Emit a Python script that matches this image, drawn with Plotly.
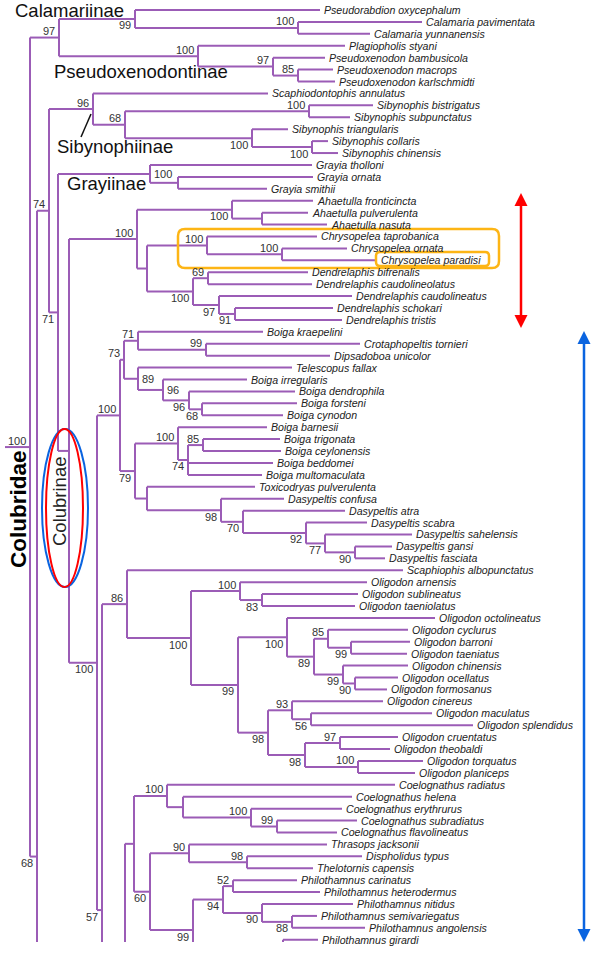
import plotly.graph_objects as go

# ---------------- data ----------------
LEAVES = [
    "Pseudorabdion oxycephalum", "Calamaria pavimentata", "Calamaria yunnanensis",
    "Plagiopholis styani", "Pseudoxenodon bambusicola", "Pseudoxenodon macrops",
    "Pseudoxenodon karlschmidti", "Scaphiodontophis annulatus", "Sibynophis bistrigatus",
    "Sibynophis subpunctatus", "Sibynophis triangularis", "Sibynophis collaris",
    "Sibynophis chinensis", "Grayia tholloni", "Grayia ornata", "Grayia smithii",
    "Ahaetulla fronticincta", "Ahaetulla pulverulenta", "Ahaetulla nasuta",
    "Chrysopelea taprobanica", "Chrysopelea ornata", "Chrysopelea paradisi",
    "Dendrelaphis bifrenalis", "Dendrelaphis caudolineolatus", "Dendrelaphis caudolineatus",
    "Dendrelaphis schokari", "Dendrelaphis tristis", "Boiga kraepelini",
    "Crotaphopeltis tornieri", "Dipsadoboa unicolor", "Telescopus fallax",
    "Boiga irregularis", "Boiga dendrophila", "Boiga forsteni", "Boiga cynodon",
    "Boiga barnesii", "Boiga trigonata", "Boiga ceylonensis", "Boiga beddomei",
    "Boiga multomaculata", "Toxicodryas pulverulenta", "Dasypeltis confusa",
    "Dasypeltis atra", "Dasypeltis scabra", "Dasypeltis sahelensis", "Dasypeltis gansi",
    "Dasypeltis fasciata", "Scaphiophis albopunctatus", "Oligodon arnensis",
    "Oligodon sublineatus", "Oligodon taeniolatus", "Oligodon octolineatus",
    "Oligodon cyclurus", "Oligodon barroni", "Oligodon taeniatus", "Oligodon chinensis",
    "Oligodon ocellatus", "Oligodon formosanus", "Oligodon cinereus", "Oligodon maculatus",
    "Oligodon splendidus", "Oligodon cruentatus", "Oligodon theobaldi",
    "Oligodon torquatus", "Oligodon planiceps", "Coelognathus radiatus",
    "Coelognathus helena", "Coelognathus erythrurus", "Coelognathus subradiatus",
    "Coelognathus flavolineatus", "Thrasops jacksonii", "Dispholidus typus",
    "Thelotornis capensis", "Philothamnus carinatus", "Philothamnus heterodermus",
    "Philothamnus nitidus", "Philothamnus semivariegatus", "Philothamnus angolensis",
    "Philothamnus girardi",
]

# depth (horizontal position) at which each terminal branch ends
TIP_DEPTH = [
    320, 422, 370, 345, 325, 333, 335, 268, 373, 350, 288, 328, 338,
    312, 313, 267, 313, 308, 327, 317, 347, 377, 308, 312, 352, 333, 342,
    263, 360, 330, 292, 247, 295, 297, 283, 267, 280, 281, 273, 262, 255,
    284, 345, 367, 412, 392, 385, 403, 367, 358, 355, 435, 408, 410, 407,
    408, 398, 387, 383, 432, 473, 398, 390, 423, 415, 395, 352, 342, 357,
    337, 327, 362, 313, 297, 320, 353, 317, 365, 318,
]

# rows of clades that continue below the cropped bottom edge
CROPPED_ROWS = {"H1": 125.2, "H2": 132.4, "H3": 81.5}

ROOT_STUB_DEPTH = 5


def N(depth, support, place, *kids):
    return {"d": depth, "s": support, "p": place, "k": kids}


# topology: node(depth, bootstrap support, label side, children...)
calam = N(135, "99", "b", 0, N(298, "100", "a", 1, 2))
pseudox = N(198, "100", "a", 3, N(273, "97", "a", 4, N(298, "85", "a", 5, 6)))
sib = N(93, "96", "a", 7,
        N(125, "68", "a", N(309, "100", "a", 8, 9),
          N(252, "100", "b", 10, N(312, "100", "b", 11, 12))))
gray = N(150, "100", "r", 13, N(178, "", None, 14, 15))
chrys = N(207, "100", "a", 19, N(282, "100", "a", 20, 21))
dend = N(193, "100", "b", N(208, "69", "a", 22, 23),
         N(219, "97", "b", 24, N(235, "91", "b", 25, 26)))
aha = N(137, "100", "a", N(232, "100", "b", 16, N(262, "", None, 17, 18)),
        N(147, "", None, chrys, dend))
n73 = N(124, "73", "a",
        N(138, "71", "a", 27, N(206, "99", "a", 28, 29)),
        N(138, "89", "r", 30,
          N(163, "96", "r", 31,
            N(189, "96", "b", 32, N(202, "68", "b", 33, 34)))))
n79 = N(135, "79", "b",
        N(178, "100", "a", 35,
          N(188, "74", "b", N(203, "85", "a", 36, 37), 38, 39)),
        N(147, "", None, 40,
          N(221, "98", "b", 41,
            N(243, "70", "b", 42,
              N(306, "92", "b", 43,
                N(325, "77", "b", 44, N(355, "90", "b", 45, 46)))))))
boiga = N(120, "100", "a", n73, n79)
n287 = N(287, "100", "b", 51,
         N(314, "89", "b",
           N(328, "85", "a", 52, N(351, "99", "b", 53, 54)),
           N(343, "99", "b", 55, N(355, "90", "b", 56, 57))))
n268 = N(268, "98", "b",
         N(292, "93", "a", 58, N(311, "56", "b", 59, 60)),
         N(305, "98", "b", N(340, "97", "a", 61, 62), N(358, "100", "a", 63, 64)))
n86 = N(127, "86", "a", 47,
        N(191, "100", "b",
          N(240, "100", "a", 48, N(262, "83", "b", 49, 50)),
          N(238, "99", "b", n287, n268)))
n134 = N(134, "", None,
         N(167, "100", "a", 65,
           N(183, "", None, 66,
             N(251, "100", "a", 67, N(277, "99", "a", 68, 69)))),
         N(150, "60", "b",
           N(189, "90", "a", 70, N(247, "98", "a", 71, 72)),
           N(193, "99", "b",
             N(223, "94", "b", N(233, "52", "a", 73, 74),
               N(262, "90", "b", 75, N(292, "88", "b", 76, 77))),
             N(283, "", None, 78, "H3"))))
n57 = N(102, "57", "b", n86, N(125, "", None, n134, "H2"))
low = N(97, "100", "b", boiga, n57)
colub = N(69, "", None, aha, low)
n71 = N(58, "71", "b", gray, colub)
n74 = N(49, "74", "a", sib, n71)
root = N(30, "100", "a", N(59, "97", "a", calam, pseudox), N(37, "68", "b", n74, "H1"))

# ---------------- layout of the tree ----------------
def row(c):
    if isinstance(c, int):
        return float(c)
    if isinstance(c, str):
        return CROPPED_ROWS[c]
    return (row(c["k"][0]) + row(c["k"][-1])) / 2


xs, ys = [], []
internal = []


def draw(n):
    rows = [row(k) for k in n["k"]]
    xs.extend([n["d"], n["d"], None])
    ys.extend([rows[0], rows[-1], None])
    internal.append((n, row(n)))
    for k, rk in zip(n["k"], rows):
        if isinstance(k, str):
            continue
        end = TIP_DEPTH[k] if isinstance(k, int) else k["d"]
        xs.extend([n["d"], end, None])
        ys.extend([rk, rk, None])
        if isinstance(k, dict):
            draw(k)


draw(root)
root_row = row(root)
xs.extend([ROOT_STUB_DEPTH, root["d"], None])
ys.extend([root_row, root_row, None])

PURPLE = "#9b5cb6"
FONT = "Liberation Sans, Arial, sans-serif"
W, H_PLOT = 600, 942

fig = go.Figure()
fig.add_trace(go.Scatter(x=xs, y=ys, mode="lines",
                         line=dict(color=PURPLE, width=2), hoverinfo="skip",
                         showlegend=False))

ann = []
for i, name in enumerate(LEAVES):
    ann.append(dict(x=TIP_DEPTH[i], y=i, text="<i>" + name + "</i>", showarrow=False,
                    xanchor="left", yanchor="middle", xshift=2,
                    font=dict(family=FONT, size=10.6, color="#222")))

for n, r in internal:
    if not n["s"]:
        continue
    if n["p"] == "r":
        ann.append(dict(x=n["d"], y=r, text=n["s"], showarrow=False, xanchor="left",
                        yanchor="middle", xshift=2,
                        font=dict(family=FONT, size=11, color="#333")))
    else:
        ann.append(dict(x=n["d"], y=r, text=n["s"], showarrow=False, xanchor="right",
                        yanchor="middle", xshift=-2,
                        yshift=6.5 if n["p"] == "a" else -6.5,
                        font=dict(family=FONT, size=11, color="#333")))


def px(x):
    return x / W


def py(y):
    return 1 - y / H_PLOT


GROUP = [("Calamariinae", 13, 11), ("Pseudoxenodontinae", 52, 72),
         ("Sibynophiinae", 55, 147), ("Grayiinae", 65, 184)]
for t, gx, gy in GROUP:
    ann.append(dict(xref="paper", yref="paper", x=px(gx), y=py(gy), text=t,
                    showarrow=False, xanchor="left", yanchor="middle",
                    font=dict(family=FONT, size=18.5, color="#111")))
ann.append(dict(xref="paper", yref="paper", x=px(59), y=py(502), text="Colubrinae",
                textangle=-90, showarrow=False, xanchor="center", yanchor="middle",
                font=dict(family=FONT, size=18.5, color="#222")))
ann.append(dict(xref="paper", yref="paper", x=px(18), y=py(509), text="<b>Colubridae</b>",
                textangle=-90, showarrow=False, xanchor="center", yanchor="middle",
                font=dict(family=FONT, size=22.5, color="#000")))


def rrect(x0, y0, x1, y1, r):
    rx, ry = r / W, r / H_PLOT
    X0, X1, Y0, Y1 = px(x0), px(x1), py(y0), py(y1)
    return (f"M {X0+rx},{Y0} L {X1-rx},{Y0} Q {X1},{Y0} {X1},{Y0-ry} "
            f"L {X1},{Y1+ry} Q {X1},{Y1} {X1-rx},{Y1} L {X0+rx},{Y1} "
            f"Q {X0},{Y1} {X0},{Y1+ry} L {X0},{Y0-ry} Q {X0},{Y0} {X0+rx},{Y0} Z")


def tri(x, ytip, ybase, half):
    return (f"M {px(x)},{py(ytip)} L {px(x-half)},{py(ybase)} "
            f"L {px(x+half)},{py(ybase)} Z")


ORANGE = "#fdb515"
RED = "#ff0000"
BLUE = "#0a64e0"
shapes = [
    dict(type="path", xref="paper", yref="paper", path=rrect(178, 229, 499, 268, 7),
         line=dict(color=ORANGE, width=2.5)),
    dict(type="path", xref="paper", yref="paper", path=rrect(376, 252, 489, 266, 4),
         line=dict(color=ORANGE, width=2.5)),
    dict(type="circle", xref="paper", yref="paper", x0=px(42), x1=px(88),
         y0=py(429), y1=py(587), line=dict(color=BLUE, width=2)),
    dict(type="circle", xref="paper", yref="paper", x0=px(46), x1=px(83),
         y0=py(429), y1=py(587), line=dict(color=RED, width=2)),
    dict(type="line", xref="paper", yref="paper", x0=px(91), y0=py(114), x1=px(81),
         y1=py(137), line=dict(color="#111", width=1.5)),
    dict(type="line", xref="paper", yref="paper", x0=px(521), y0=py(200), x1=px(521),
         y1=py(321), line=dict(color=RED, width=2.5)),
    dict(type="path", xref="paper", yref="paper", path=tri(521, 193, 206, 6.5),
         fillcolor=RED, line=dict(width=0)),
    dict(type="path", xref="paper", yref="paper", path=tri(521, 328, 315, 6.5),
         fillcolor=RED, line=dict(width=0)),
    dict(type="line", xref="paper", yref="paper", x0=px(584), y0=py(338), x1=px(584),
         y1=py(935), line=dict(color=BLUE, width=2.5)),
    dict(type="path", xref="paper", yref="paper", path=tri(584, 331, 344, 6.5),
         fillcolor=BLUE, line=dict(width=0)),
    dict(type="path", xref="paper", yref="paper", path=tri(584, 942, 929, 6.5),
         fillcolor=BLUE, line=dict(width=0)),
]

top_row = -10 / 11.92
bottom_row = (H_PLOT - 10) / 11.92
fig.update_layout(
    width=600, height=955,
    margin=dict(l=0, r=0, t=0, b=955 - H_PLOT, pad=0, autoexpand=False),
    paper_bgcolor="white", plot_bgcolor="white",
    xaxis=dict(range=[0, W], visible=False, fixedrange=True),
    yaxis=dict(range=[bottom_row, top_row], visible=False, fixedrange=True),
    annotations=ann, shapes=shapes, showlegend=False,
)
fig.write_html("out.html", config={"displayModeBar": False},
               post_script="document.body.style.margin='0';document.body.style.overflow='hidden';")
